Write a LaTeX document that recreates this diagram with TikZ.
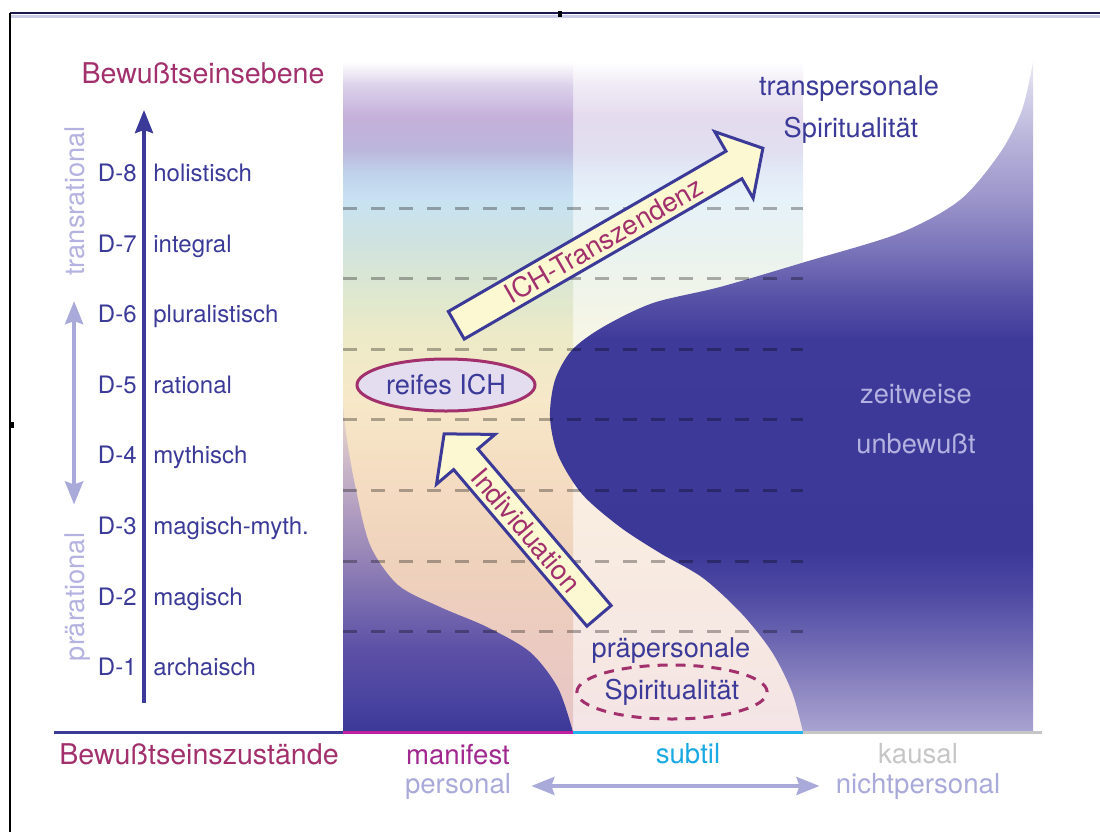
\documentclass[tikz,border=0pt]{standalone}
\usepackage{fontspec}
\setmainfont{TeX Gyre Heros}
\usepackage{tikz}
\usetikzlibrary{arrows.meta,positioning,shapes.arrows,shapes.geometric}
\definecolor{bwNavy}{HTML}{3B3A98}
\definecolor{bwPlum}{HTML}{A2306C}
\definecolor{bwMagenta}{HTML}{A0288E}
\definecolor{bwRose}{HTML}{C41EA0}
\definecolor{bwCyan}{HTML}{1AA9E2}
\definecolor{bwSky}{HTML}{22B4EE}
\definecolor{bwGray}{HTML}{C6C6C6}
\definecolor{bwLav}{HTML}{A9A9DA}
\definecolor{bwMist}{HTML}{B4B2E0}
\definecolor{bwCream}{HTML}{FCF9D2}
\definecolor{bwIch}{HTML}{E4DDF0}
\definecolor{bwFrame}{HTML}{1C1A50}
\definecolor{bwFrameShade}{HTML}{CACCE8}
\pgfdeclareverticalshading{bwdawn}{100bp}{%
  rgb(0bp)=(0.902,0.769,0.784); rgb(25bp)=(0.902,0.769,0.784);%
  rgb(31.87bp)=(0.922,0.796,0.753); rgb(37.84bp)=(0.937,0.824,0.737);%
  rgb(44.55bp)=(0.961,0.867,0.761); rgb(49.78bp)=(0.965,0.910,0.784);%
  rgb(54.78bp)=(0.925,0.918,0.784); rgb(56.72bp)=(0.886,0.910,0.800);%
  rgb(59.25bp)=(0.847,0.902,0.839); rgb(61.72bp)=(0.808,0.886,0.878);%
  rgb(64.70bp)=(0.784,0.886,0.949); rgb(66.72bp)=(0.753,0.824,0.925);%
  rgb(68.43bp)=(0.737,0.714,0.863); rgb(70.90bp)=(0.769,0.690,0.855);%
  rgb(73.28bp)=(0.863,0.824,0.918); rgb(75bp)=(1,1,1); rgb(100bp)=(1,1,1)}
\pgfdeclareverticalshading{bwdusk}{100bp}{%
  rgb(0bp)=(0.235,0.220,0.596); rgb(25bp)=(0.235,0.220,0.596);%
  rgb(29.89bp)=(0.290,0.267,0.627); rgb(37.54bp)=(0.361,0.314,0.651);%
  rgb(45.18bp)=(0.478,0.424,0.690); rgb(52.83bp)=(0.604,0.533,0.722);%
  rgb(65.06bp)=(0.784,0.706,0.784); rgb(75bp)=(0.925,0.855,0.784);%
  rgb(100bp)=(0.925,0.855,0.784)}
\pgfdeclareverticalshading{bwnight}{100bp}{%
  rgb(0bp)=(0.659,0.643,0.816); rgb(25bp)=(0.659,0.643,0.816);%
  rgb(28.13bp)=(0.557,0.533,0.761); rgb(31.87bp)=(0.424,0.400,0.698);%
  rgb(35.60bp)=(0.298,0.282,0.635); rgb(38.58bp)=(0.235,0.220,0.596);%
  rgb(54.25bp)=(0.243,0.227,0.600); rgb(57.24bp)=(0.337,0.314,0.651);%
  rgb(60.97bp)=(0.478,0.455,0.729); rgb(64.70bp)=(0.604,0.580,0.792);%
  rgb(69.18bp)=(0.722,0.706,0.855); rgb(72.91bp)=(0.839,0.831,0.918);%
  rgb(75bp)=(0.925,0.918,0.957); rgb(100bp)=(0.925,0.918,0.957)}
\tikzset{
  bw diagram/.style={x=0.5pt, y=-0.5pt},
  bw text/.style={inner sep=0pt, font=\fontsize{13.6}{16}\selectfont, text=bwNavy},
  bw level/.style={bw text, font=\fontsize{12}{14}\selectfont},
  bw title/.style={bw text, font=\fontsize{14.3}{17}\selectfont, text=bwPlum},
  bw state/.style={bw text, font=\fontsize{13.8}{16}\selectfont},
  bw axis/.style={draw=bwNavy, line width=1.9pt,
    -{Stealth[length=11.5pt,width=9pt,inset=1.5pt]}},
  bw span/.style={draw=bwLav, line width=2pt,
    {Stealth[length=11.5pt,width=9pt,inset=1.5pt]}-{Stealth[length=11.5pt,width=9pt,inset=1.5pt]}},
  bw dash/.style={draw=black, draw opacity=.3, line width=1.5pt, dash pattern=on 7pt off 7pt},
  bw base/.style={line width=1.5pt},
  bw block/.style={single arrow, draw=bwNavy, fill=bwCream, line width=1.5pt,
    single arrow head extend=11.25pt, single arrow tip angle=98,
    single arrow head indent=0pt, inner xsep=2pt, inner ysep=2.3pt,
    text height=9.8pt, text depth=0pt, font=\fontsize{13.6}{16}\selectfont, text=bwPlum},
  bw ich/.style={ellipse, draw=bwPlum, fill=bwIch, line width=1.5pt, inner sep=0pt,
    minimum width=89pt, minimum height=26pt, bw text},
  bw spirit/.style={ellipse, draw=bwPlum, line width=1.5pt, dash pattern=on 5pt off 4pt,
    inner sep=0pt, inner xsep=-2.3pt, minimum width=89pt, minimum height=27pt, bw text}
}
\begin{document}
\begin{tikzpicture}[bw diagram]
\useasboundingbox (0,0) rectangle (1100,832);
\shade[shading=bwdawn] (343,62) rectangle (573,732);
\shade[shading=bwdawn, opacity=.45] (573,62) rectangle (803,732);
\shade[shading=bwdusk] plot[smooth] coordinates {(343,405) (347,440) (355,485) (370,545)
  (398,585) (440,607) (487,627) (530,652) (558,688) (573,732)} -- (343,732) -- cycle;
\shade[shading=bwnight] plot[smooth] coordinates {(803,732) (792,692) (772,652) (742,614)
  (703,578) (660,553) (620,527) (582,494) (558,455) (550,417) (555,380) (572,350) (603,327)
  (653,303) (720,287) (805,262) (900,233) (960,200) (1000,153) (1022,110) (1033,62)}
  -- (1033,732) -- cycle;
\foreach \j in {0,...,6}
  \draw[bw dash] (343,{631.7-70.6*\j}) -- (803,{631.7-70.6*\j});
\draw[bw base, draw=bwNavy] (54,732) -- (343,732);
\draw[bw base, draw=bwRose] (343,732) -- (573,732);
\draw[bw base, draw=bwSky] (573,732) -- (803,732);
\draw[bw base, draw=bwGray] (803,732) -- (1042,732);
\draw[draw=bwFrameShade, line width=1.5pt] (10,16) -- (1100,16);
\draw[draw=bwFrame, line width=1pt] (10,13) -- (1100,13);
\draw[draw=black, line width=1.2pt] (10,13) -- (10,832);
\fill (558,11) rectangle (562,17);
\fill (10,422) rectangle (14,428);
\coordinate (foot) at (144,703);
\coordinate (peak) at (144,110);
\draw[bw axis] (foot) -- (peak);
\node[bw title, anchor=base] (plane) at (203,83) {Bewußtseinsebene};
\foreach \k/\word in {1/archaisch,2/magisch,3/magisch-myth.,4/mythisch,5/rational,6/pluralistisch,7/integral,8/holistisch}{
  \node[bw level, anchor=base east] (lvl\k) at (137,{675.6-70.6*(\k-1)}) {D-\k};
  \node[bw level, anchor=base west] (stage\k) at (153,{675.6-70.6*(\k-1)}) {\word};
}
\node[bw text, text=bwMist, text depth=0pt, rotate=90, anchor=base] (transr) at (84,201) {transrational};
\node[bw text, text=bwMist, text depth=0pt, rotate=90, anchor=base] (praer) at (84,597) {prärational};
\draw[bw span, shorten <=12.5pt, shorten >=14pt] (transr) -- (praer);
\node[bw title, anchor=base] (states) at (199,764) {Bewußtseinszustände};
\node[bw state, anchor=base, text=bwMagenta] (manifest) at (458,764) {manifest};
\node[bw state, anchor=base, text=bwLav] (personal) at (458,793) {personal};
\node[bw state, anchor=base, text=bwCyan] (subtil) at (688,763) {subtil};
\node[bw state, anchor=base, text=bwGray] (kausal) at (918,763) {kausal};
\node[bw state, anchor=base, text=bwLav] (nichtpers) at (918,793) {nichtpersonal};
\draw[bw span, line width=1.8pt, shorten <=10pt, shorten >=8pt] (personal) -- (nichtpers);
\node[bw ich] (ich) at (446,385) {reifes ICH};
\node[bw spirit] (prespirit) at (672,692) {Spiritualität};
\node[bw text, anchor=base] (prepers) at (671,657) {präpersonale};
\node[bw text, anchor=base] (transpers) at (849,95) {transpersonale};
\node[bw text, anchor=base] (transspirit) at (851,137) {Spiritualität};
\node[bw text, anchor=base, text=bwMist] (zeit) at (916,403) {zeitweise};
\node[bw text, anchor=base, text=bwMist] (unbew) at (916,453) {unbewußt};
\node[bw block, rotate=30, anchor=tail, minimum height=177pt] (transz) at (455,326) {ICH-Transzendenz};
\node[bw block, shape border rotate=180, rotate=-49.6, anchor=tail, minimum height=119.5pt] (indiv) at (600,617) {Individuation};
\end{tikzpicture}
\end{document}
